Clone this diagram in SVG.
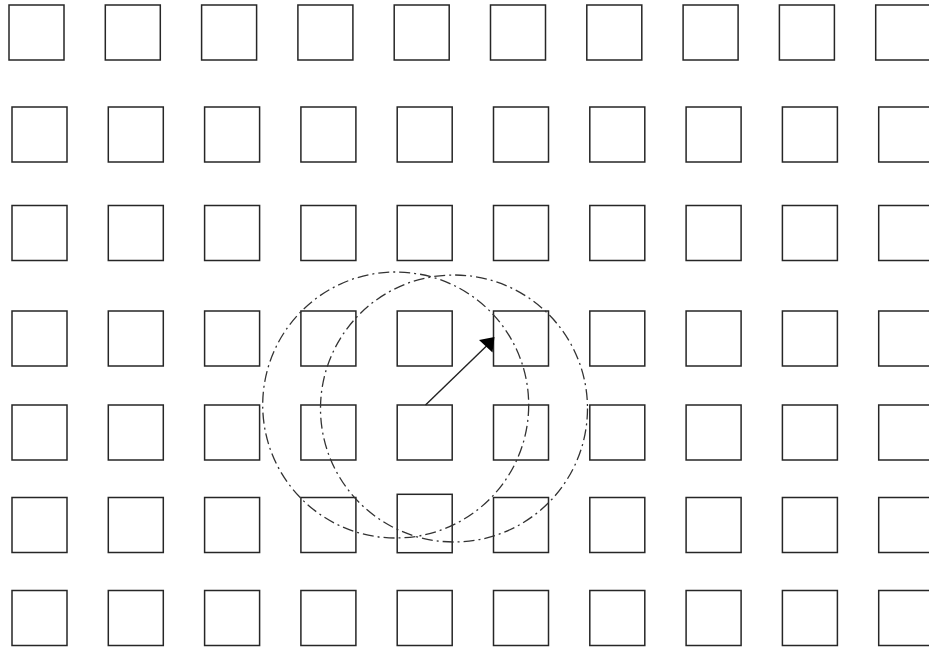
<svg xmlns="http://www.w3.org/2000/svg" width="929" height="648" viewBox="0 0 929 648">
<style>
.sq{fill:none;stroke:#262626;stroke-width:1.5}
.ring{fill:none;stroke:#333;stroke-width:1.3;stroke-dasharray:11 4 2 4}
.arr{stroke:#222;stroke-width:1.4;fill:none}
</style>
<rect width="929" height="648" fill="#fff"/>
<defs><rect id="b" width="55" height="55" class="sq"/></defs>
<g id="row1">
<use href="#b" x="9" y="5"/><use href="#b" x="105.3" y="5"/><use href="#b" x="201.6" y="5"/><use href="#b" x="297.9" y="5"/><use href="#b" x="394.2" y="5"/><use href="#b" x="490.5" y="5"/><use href="#b" x="586.8" y="5"/><use href="#b" x="683.1" y="5"/><use href="#b" x="779.4" y="5"/><use href="#b" x="875.7" y="5"/>
</g>
<g id="row2">
<use href="#b" x="12" y="107"/><use href="#b" x="108.3" y="107"/><use href="#b" x="204.6" y="107"/><use href="#b" x="300.9" y="107"/><use href="#b" x="397.2" y="107"/><use href="#b" x="493.5" y="107"/><use href="#b" x="589.8" y="107"/><use href="#b" x="686.1" y="107"/><use href="#b" x="782.4" y="107"/><use href="#b" x="878.7" y="107"/>
</g>
<g id="row3">
<use href="#b" x="12" y="205.5"/><use href="#b" x="108.3" y="205.5"/><use href="#b" x="204.6" y="205.5"/><use href="#b" x="300.9" y="205.5"/><use href="#b" x="397.2" y="205.5"/><use href="#b" x="493.5" y="205.5"/><use href="#b" x="589.8" y="205.5"/><use href="#b" x="686.1" y="205.5"/><use href="#b" x="782.4" y="205.5"/><use href="#b" x="878.7" y="205.5"/>
</g>
<g id="row4">
<use href="#b" x="12" y="311"/><use href="#b" x="108.3" y="311"/><use href="#b" x="204.6" y="311"/><use href="#b" x="300.9" y="311"/><use href="#b" x="397.2" y="311"/><use href="#b" x="493.5" y="311"/><use href="#b" x="589.8" y="311"/><use href="#b" x="686.1" y="311"/><use href="#b" x="782.4" y="311"/><use href="#b" x="878.7" y="311"/>
</g>
<g id="row5">
<use href="#b" x="12" y="405"/><use href="#b" x="108.3" y="405"/><use href="#b" x="204.6" y="405"/><use href="#b" x="300.9" y="405"/><use href="#b" x="397.2" y="405"/><use href="#b" x="493.5" y="405"/><use href="#b" x="589.8" y="405"/><use href="#b" x="686.1" y="405"/><use href="#b" x="782.4" y="405"/><use href="#b" x="878.7" y="405"/>
</g>
<g id="row6">
<use href="#b" x="12" y="497.5"/><use href="#b" x="108.3" y="497.5"/><use href="#b" x="204.6" y="497.5"/><use href="#b" x="300.9" y="497.5"/><rect class="sq" x="397.2" y="494.3" width="55" height="58.4"/><use href="#b" x="493.5" y="497.5"/><use href="#b" x="589.8" y="497.5"/><use href="#b" x="686.1" y="497.5"/><use href="#b" x="782.4" y="497.5"/><use href="#b" x="878.7" y="497.5"/>
</g>
<g id="row7">
<use href="#b" x="12" y="590.5"/><use href="#b" x="108.3" y="590.5"/><use href="#b" x="204.6" y="590.5"/><use href="#b" x="300.9" y="590.5"/><use href="#b" x="397.2" y="590.5"/><use href="#b" x="493.5" y="590.5"/><use href="#b" x="589.8" y="590.5"/><use href="#b" x="686.1" y="590.5"/><use href="#b" x="782.4" y="590.5"/><use href="#b" x="878.7" y="590.5"/>
</g>
<g id="circles">
<circle class="ring" cx="395.7" cy="405" r="133"/>
<circle class="ring" cx="454" cy="408.5" r="133.5"/>
</g>
<g id="connectors">
<line class="arr" x1="425.5" y1="405" x2="487" y2="345.5"/>
<polygon points="494.5,337 479,340 492.5,352.5" fill="#000"/>
</g>
</svg>
